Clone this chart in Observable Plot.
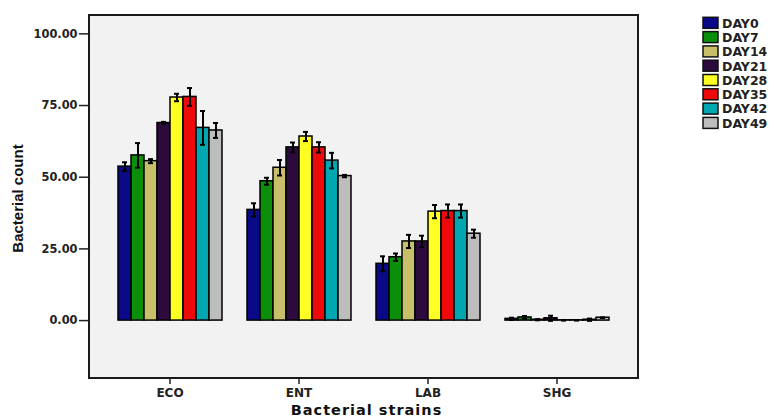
<!DOCTYPE html>
<html>
<head>
<meta charset="utf-8">
<script src="https://cdn.jsdelivr.net/npm/d3@7"></script>
<script src="https://cdn.jsdelivr.net/npm/@observablehq/plot@0.6"></script>
<style>
  html, body { margin: 0; padding: 0; background: #ffffff; }
  #chart { position: relative; width: 774px; height: 418px; }
</style>
</head>
<body>
<div id="chart"></div>
<script>
// ---- data ----
const strains = ["ECO", "ENT", "LAB", "SHG"];
const days = ["DAY0", "DAY7", "DAY14", "DAY21", "DAY28", "DAY35", "DAY42", "DAY49"];
const dayColors = ["#0a0a88", "#0b8f0b", "#c8bf6a", "#2d0a3c", "#ffff24", "#ee0a0a", "#00a6b0", "#bdbdbd"];
const yTicks = [0, 25, 50, 75, 100];

const ecoMean = [53.7, 57.6, 55.6, 68.9, 77.8, 78.0, 67.2, 66.3];
const ecoErr  = [1.5, 4.3, 0.7, 0.4, 1.3, 3.1, 5.9, 2.6];
const entMean = [38.6, 48.6, 53.3, 60.4, 64.2, 60.4, 55.8, 50.4];
const entErr  = [2.3, 1.2, 2.7, 1.7, 1.6, 1.8, 2.7, 0.4];
const labMean = [19.8, 22.1, 27.6, 27.6, 38.0, 38.2, 38.2, 30.3];
const labErr  = [2.6, 1.3, 2.3, 2.0, 2.3, 2.3, 2.3, 1.4];
const shgMean = [0.6, 1.1, 0.3, 0.8, 0.1, 0.1, 0.3, 1.0];
const shgErr  = [0.4, 0.5, 0.2, 0.9, 0.1, 0.1, 0.4, 0.1];

const xTitle = "Bacterial strains";
const yTitle = "Bacterial count";

// ---- table built from the arrays ----
const means = [ecoMean, entMean, labMean, shgMean];
const errs = [ecoErr, entErr, labErr, shgErr];
const rows = strains.flatMap((s, i) => days.map((d, j) => ({
  strain: s, day: d, value: means[i][j], err: errs[i][j]
})));

// ---- layout ----
const W = 774, H = 418;
const mL = 89, mR = 136, mT = 15, mB = 40;

const plot = Plot.plot({
  width: W, height: H,
  marginLeft: mL, marginRight: mR, marginTop: mT, marginBottom: mB,
  style: {fontFamily: "DejaVu Sans", background: "transparent", color: "#222"},
  fx: {domain: strains, paddingInner: 0.1846, paddingOuter: 0.2077, label: null},
  x: {domain: days, padding: 0, axis: null},
  y: {domain: [-20.2, 106.4], label: null},
  color: {domain: days, range: dayColors},
  marks: [
    Plot.axisY({ticks: yTicks, tickFormat: d3.format(".2f"), tickSize: 11, tickPadding: 2,
      dx: -27, fontSize: 11.4, fontWeight: "bold", label: null, stroke: "#222", strokeWidth: 1.5}),
    Plot.axisFx({anchor: "bottom", tickSize: 6, tickPadding: 4, fontSize: 12, fontWeight: "bold", label: null,
      stroke: "#222", strokeWidth: 1.5}),
    Plot.barY(rows, {fx: "strain", x: "day", y: "value", fill: "day", stroke: "black", strokeWidth: 1.5}),
    Plot.ruleX(rows, {fx: "strain", x: "day", y1: d => d.value - d.err, y2: d => d.value + d.err,
      stroke: "black", strokeWidth: 2}),
    Plot.tickY(rows, {fx: "strain", x: "day", y: d => d.value - d.err, insetLeft: 4, insetRight: 4,
      stroke: "black", strokeWidth: 2}),
    Plot.tickY(rows, {fx: "strain", x: "day", y: d => d.value + d.err, insetLeft: 4, insetRight: 4,
      stroke: "black", strokeWidth: 2})
  ]
});

const svg = d3.select(plot);
// plot-area background and frame
svg.insert("rect", "g")
  .attr("x", mL).attr("y", mT)
  .attr("width", W - mL - mR).attr("height", H - mT - mB)
  .attr("fill", "#f2f2f2").attr("stroke", "#1a1a1a").attr("stroke-width", 2);

// axis titles
svg.append("text")
  .attr("transform", `translate(17.5,${(mT + H - mB) / 2 + 2}) rotate(-90)`)
  .attr("text-anchor", "middle").attr("dominant-baseline", "central")
  .attr("font-family", "Liberation Sans").attr("font-weight", "bold").attr("font-size", 15)
  .attr("fill", "#111").text(yTitle);
svg.append("text")
  .attr("x", (mL + W - mR) / 2 + 3).attr("y", 415)
  .attr("text-anchor", "middle")
  .attr("font-family", "DejaVu Sans").attr("font-weight", "bold").attr("font-size", 14.5)
  .attr("letter-spacing", 1).attr("fill", "#111").text(xTitle);

// legend from the color scale
const color = plot.scale("color");
const lg = svg.append("g").attr("text-anchor", "start");
color.domain.forEach((d, i) => {
  const y0 = 17.3 + i * 14.3;
  lg.append("rect").attr("x", 703).attr("y", y0).attr("width", 15).attr("height", 11)
    .attr("fill", color.range[i]).attr("stroke", "#111").attr("stroke-width", 1.5);
  lg.append("text").attr("x", 722).attr("y", y0 + 5.8).attr("dominant-baseline", "central")
    .attr("text-anchor", "start")
    .attr("font-family", "DejaVu Sans").attr("font-weight", "bold").attr("font-size", 12.5)
    .attr("fill", "#222").text(d);
});

document.getElementById("chart").appendChild(plot);
</script>
</body>
</html>
